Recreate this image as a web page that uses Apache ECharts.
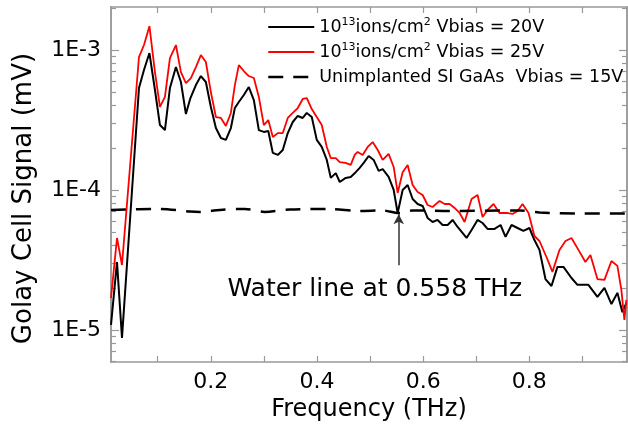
<!DOCTYPE html>
<html>
<head>
<meta charset="utf-8">
<script src="https://cdn.jsdelivr.net/npm/echarts@6/dist/echarts.min.js"></script>
<style>html,body{margin:0;padding:0;background:#fff;}#c{width:628px;height:424px;}</style>
</head>
<body>
<div id="c"></div>
<script>
// ---- data (frequency in THz, signal in mV) ----
const freqBlack = [0.012,0.0233,0.0327,0.0647,0.0741,0.0844,0.0948,0.1042,0.1136,0.1230,0.1343,0.1437,0.1531,0.1616,0.1719,0.1813,0.1907,0.2001,0.2096,0.2190,0.2284,0.2378,0.2453,0.2528,0.2622,0.2716,0.2811,0.2905,0.2999,0.3083,0.3168,0.3262,0.3356,0.3450,0.3544,0.3638,0.3732,0.3808,0.3902,0.3996,0.4090,0.4185,0.4260,0.4354,0.4429,0.4541,0.4636,0.4730,0.4805,0.4880,0.4974,0.5068,0.5162,0.5238,0.5350,0.5445,0.5520,0.5614,0.5708,0.5802,0.5896,0.5990,0.6084,0.6178,0.6272,0.6367,0.6461,0.6555,0.6649,0.6818,0.6912,0.7025,0.7119,0.7213,0.7345,0.7458,0.7552,0.7665,0.7778,0.7889,0.8002,0.8096,0.8191,0.8304,0.8417,0.8530,0.8643,0.8794,0.8907,0.9113,0.9283,0.9415,0.9547,0.9659,0.9753,0.9828];
const sigBlack = [1.086e-5,3.06e-5,8.77e-6,5.35e-4,7.20e-4,9.52e-4,5.18e-4,2.91e-4,2.68e-4,5.35e-4,7.56e-4,5.91e-4,3.49e-4,4.54e-4,5.62e-4,6.52e-4,5.91e-4,3.92e-4,2.77e-4,2.35e-4,2.28e-4,2.77e-4,3.85e-4,4.25e-4,4.77e-4,5.44e-4,4.39e-4,2.68e-4,2.60e-4,2.64e-4,1.84e-4,1.78e-4,1.93e-4,2.55e-4,3.06e-4,3.38e-4,3.27e-4,3.55e-4,3.32e-4,2.28e-4,2.03e-4,1.64e-4,1.22e-4,1.32e-4,1.14e-4,1.22e-4,1.24e-4,1.34e-4,1.44e-4,1.56e-4,1.75e-4,1.64e-4,1.37e-4,1.41e-4,1.24e-4,1.00e-4,6.85e-5,1.00e-4,1.086e-4,8.62e-5,7.94e-5,7.69e-5,6.31e-5,5.91e-5,6.11e-5,5.62e-5,5.62e-5,6.11e-5,5.44e-5,4.54e-5,5.18e-5,6.11e-5,5.81e-5,5.27e-5,5.27e-5,5.62e-5,4.62e-5,5.62e-5,5.35e-5,5.10e-5,5.35e-5,4.39e-5,3.73e-5,2.31e-5,2.06e-5,2.82e-5,2.82e-5,2.35e-5,2.10e-5,2.10e-5,1.72e-5,2.00e-5,1.53e-5,1.84e-5,1.34e-5,1.56e-5];

const freqRed = [0.012,0.0233,0.0327,0.0647,0.0741,0.0844,0.0948,0.1042,0.1136,0.1230,0.1343,0.1437,0.1531,0.1625,0.1719,0.1813,0.1907,0.2001,0.2096,0.2190,0.2284,0.2378,0.2453,0.2528,0.2622,0.2716,0.2811,0.2905,0.2999,0.3083,0.3168,0.3262,0.3356,0.3450,0.3544,0.3638,0.3732,0.3808,0.3902,0.3996,0.4090,0.4185,0.4260,0.4354,0.4429,0.4541,0.4636,0.4711,0.4767,0.4861,0.4955,0.5049,0.5144,0.5238,0.5350,0.5445,0.5520,0.5614,0.5708,0.5802,0.5896,0.5990,0.6084,0.6178,0.6310,0.6404,0.6498,0.6592,0.6687,0.6781,0.6912,0.7025,0.7119,0.7213,0.7326,0.7439,0.7571,0.7684,0.7778,0.7872,0.7985,0.8096,0.8191,0.8323,0.8436,0.8568,0.8681,0.8794,0.8925,0.9057,0.9151,0.9283,0.9415,0.9547,0.9659,0.9734,0.9791,0.9828];
const sigRed = [1.69e-5,4.54e-5,2.91e-5,8.91e-4,1.086e-3,1.48e-3,6.96e-4,3.92e-4,4.62e-4,8.77e-4,1.086e-3,6.96e-4,5.81e-4,6.31e-4,7.56e-4,9.21e-4,8.21e-4,5.01e-4,3.32e-4,3.27e-4,2.87e-4,3.55e-4,5.62e-4,7.81e-4,7.08e-4,6.52e-4,6.31e-4,4.62e-4,2.91e-4,3.16e-4,2.39e-4,2.55e-4,2.55e-4,3.27e-4,3.55e-4,3.85e-4,4.47e-4,4.54e-4,3.79e-4,3.32e-4,2.91e-4,2.03e-4,1.69e-4,1.69e-4,1.58e-4,1.56e-4,1.51e-4,1.78e-4,1.87e-4,1.78e-4,2.03e-4,2.20e-4,1.93e-4,1.64e-4,1.81e-4,1.46e-4,9.52e-5,1.34e-4,1.51e-4,1.086e-4,9.67e-5,9.21e-5,7.81e-5,7.56e-5,8.35e-5,7.94e-5,7.94e-5,7.44e-5,6.85e-5,5.91e-5,8.62e-5,9.21e-5,6.41e-5,7.20e-5,7.94e-5,6.85e-5,6.85e-5,6.74e-5,7.08e-5,7.94e-5,6.85e-5,4.69e-5,4.32e-5,3.32e-5,2.60e-5,3.73e-5,4.32e-5,4.54e-5,3.73e-5,3.06e-5,3.43e-5,2.31e-5,2.28e-5,3.11e-5,2.87e-5,1.93e-5,1.18e-5,1.64e-5];

const freqDash = [0.012,0.1042,0.1606,0.1794,0.2171,0.2641,0.3017,0.3488,0.4240,0.4805,0.5238,0.5539,0.5802,0.6498,0.7815,0.8191,0.8945,0.9828];
const sigDash = [7.20e-5,7.32e-5,7.02e-5,6.97e-5,7.20e-5,7.32e-5,6.97e-5,7.26e-5,7.32e-5,7.08e-5,7.14e-5,6.85e-5,7.14e-5,7.08e-5,7.14e-5,6.91e-5,6.79e-5,6.79e-5];

const seriesNames = ['black20', 'red25', 'unimpl'];
const legendTexts = ['10{sup|13}ions/cm{sup|2} Vbias = 20V', '10{sup|13}ions/cm{sup|2} Vbias = 25V', 'Unimplanted SI GaAs  Vbias = 15V'];
const xTickValues = [0.1,0.2,0.3,0.4,0.5,0.6,0.7,0.8,0.9];
const xLabelValues = [0.2,0.4,0.6,0.8];
const yMajorValues = [1e-5,1e-4,1e-3];
const yMinorValues = [6e-6,7e-6,8e-6,9e-6,2e-5,3e-5,4e-5,5e-5,6e-5,7e-5,8e-5,9e-5,2e-4,3e-4,4e-4,5e-4,6e-4,7e-4,8e-4,9e-4,2e-3];
const waterLineFreq = 0.554;
const waterArrow = [2.9e-5, 6.7e-5];
const waterText = 'Water line at 0.558 THz';
const waterTextPos = [0.509, 1.95e-5];

const X_MIN = 0.012, X_MAX = 0.984, Y_MIN = 5.9e-6, Y_MAX = 2.03e-3;
const FONT = 'DejaVu Sans';
const AX = '#999';
const lineColors = ['#000', '#ff0000', '#000'];
const lineWidths = [2, 1.8, 2.5];
const lineTypes = ['solid', 'solid', [15, 10]];

const pairs = (xs, ys) => xs.map((x, i) => [x, ys[i]]);
const legendMap = {};
seriesNames.forEach((n, i) => legendMap[n] = legendTexts[i]);

function yAxisDef(pos, values, len, labels) {
  return {
    type: 'log', position: pos, min: Y_MIN, max: Y_MAX, logBase: 10,
    axisLine: { show: true, lineStyle: { color: AX, width: 1.5 } },
    axisTick: { show: true, inside: true, length: len, customValues: values, lineStyle: { color: AX, width: 1.2 } },
    axisLabel: labels ? {
      show: true, customValues: yMajorValues, margin: 10, fontFamily: FONT, fontSize: 22, color: '#000',
      formatter: v => '1E' + Math.round(Math.log10(v))
    } : { show: false },
    splitLine: { show: false }, minorTick: { show: false },
    name: labels ? 'Golay Cell Signal (mV)' : '',
    nameLocation: 'middle', nameGap: 74, nameRotate: 90,
    nameTextStyle: { fontFamily: FONT, fontSize: 26, color: '#000', padding: [0, 28, 0, 0] }
  };
}

function xAxisDef(pos, labels) {
  return {
    type: 'value', position: pos, min: X_MIN, max: X_MAX,
    axisLine: { show: true, lineStyle: { color: AX, width: 1.5 } },
    axisTick: { show: true, inside: true, length: 6, customValues: xTickValues, lineStyle: { color: AX, width: 1.2 } },
    axisLabel: labels ? {
      show: true, customValues: xLabelValues, margin: 9, fontFamily: FONT, fontSize: 22, color: '#000',
      formatter: v => v.toFixed(1)
    } : { show: false },
    splitLine: { show: false },
    name: labels ? 'Frequency (THz)' : '',
    nameLocation: 'middle', nameGap: 28,
    nameTextStyle: { fontFamily: FONT, fontSize: 24, color: '#000' }
  };
}

const chart = echarts.init(document.getElementById('c'), null, { renderer: 'canvas' });
chart.setOption({
  animation: false,
  backgroundColor: '#fff',
  grid: { left: 111, top: 7, right: 1, bottom: 62, containLabel: false, outerBoundsMode: 'none' },
  xAxis: [xAxisDef('bottom', true), xAxisDef('top', false)],
  yAxis: [
    yAxisDef('left', yMajorValues, 8, true),
    yAxisDef('left', yMinorValues, 5, false),
    yAxisDef('right', yMajorValues, 8, false),
    yAxisDef('right', yMinorValues, 5, false)
  ],
  legend: {
    orient: 'vertical', left: 262, top: 12, itemWidth: 46, itemHeight: 14, itemGap: 5,
    data: seriesNames.map((n, i) => ({
      name: n,
      itemStyle: { opacity: 0 },
      lineStyle: { color: lineColors[i], width: lineWidths[i], type: lineTypes[i], opacity: 1 }
    })),
    formatter: n => legendMap[n],
    textStyle: {
      fontFamily: FONT, fontSize: 17.5, color: '#000', lineHeight: 20,
      rich: { sup: { fontFamily: FONT, fontSize: 11, verticalAlign: 'top', lineHeight: 12, color: '#000' } }
    }
  },
  series: [
    {
      name: seriesNames[0], type: 'line', data: pairs(freqBlack, sigBlack),
      showSymbol: false, symbol: 'none', lineStyle: { color: lineColors[0], width: lineWidths[0], type: lineTypes[0] }, itemStyle: { color: lineColors[0] }, z: 3
    },
    {
      name: seriesNames[1], type: 'line', data: pairs(freqRed, sigRed),
      showSymbol: false, symbol: 'none', lineStyle: { color: lineColors[1], width: lineWidths[1], type: lineTypes[1] }, itemStyle: { color: lineColors[1] }, z: 4
    },
    {
      name: seriesNames[2], type: 'line', data: pairs(freqDash, sigDash), smooth: 0.3,
      showSymbol: false, symbol: 'none', lineStyle: { color: lineColors[2], width: lineWidths[2], type: lineTypes[2] }, itemStyle: { color: lineColors[2] }, z: 5,
      markLine: {
        silent: true, animation: false,
        symbol: ['none', 'arrow'], symbolSize: [8, 10],
        lineStyle: { color: '#333', width: 1.5, type: 'solid' },
        label: { show: false },
        data: [[{ coord: [waterLineFreq, waterArrow[0]] }, { coord: [waterLineFreq, waterArrow[1]] }]]
      },
      markPoint: {
        silent: true, symbol: 'circle', symbolSize: 2,
        itemStyle: { color: 'rgba(0,0,0,0)' },
        label: { show: true, position: 'inside', formatter: waterText, fontFamily: FONT, fontSize: 25, color: '#000' },
        data: [{ coord: waterTextPos, value: 0 }]
      }
    }
  ]
});
</script>
</body>
</html>
